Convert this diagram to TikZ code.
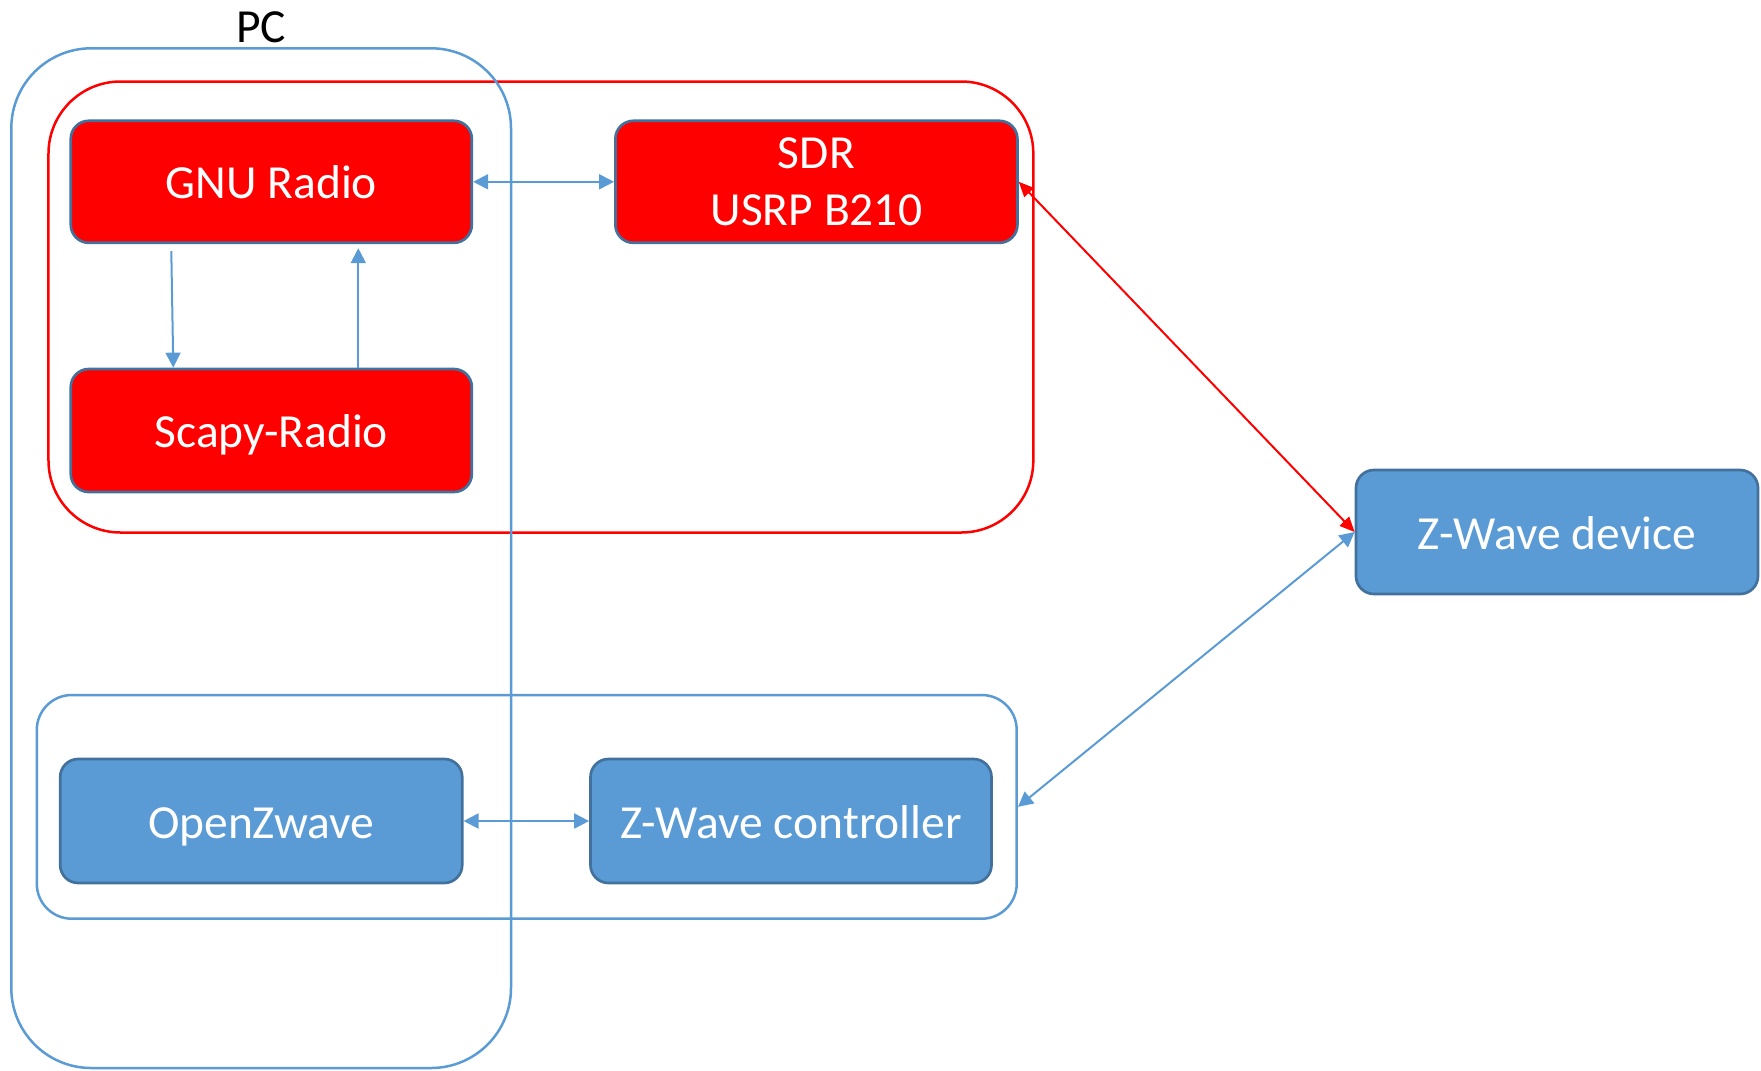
\documentclass[tikz,border=0pt]{standalone}
\usepackage{fontspec}
\setmainfont{Carlito}
\usetikzlibrary{arrows.meta}
\definecolor{accblue}{HTML}{5B9BD5}
\definecolor{bordblue}{HTML}{41719C}
\definecolor{pured}{HTML}{FF0000}
\tikzset{
  box/.style={rectangle, rounded corners=18bp, draw=bordblue, line width=2.7bp,
    minimum width=401bp, minimum height=122bp, inner sep=0pt, text=white,
    font=\fontsize{47.5bp}{56.7bp}\selectfont, align=center},
  redbox/.style={box, fill=pured},
  bluebox/.style={box, fill=accblue, minimum height=124bp},
  oneline/.style={text height=34bp, text depth=0bp},
  container/.style={rectangle, draw, line width=2.5bp, inner sep=0pt},
  barrow/.style={draw=accblue, line width=2bp, {Triangle[length=15bp,width=15bp]}-{Triangle[length=15bp,width=15bp]}},
  barrowone/.style={draw=accblue, line width=2bp, -{Triangle[length=15bp,width=15bp]}},
  rarrow/.style={draw=pured, line width=2bp, {Triangle[length=15bp,width=13bp]}-{Triangle[length=15bp,width=13bp]}},
}
\begin{document}
\begin{tikzpicture}[x=1bp, y=-1bp]
\useasboundingbox (0,0) rectangle (1761,1070);
% containers
\node[container, draw=pured, rounded corners=72bp, minimum width=984.8bp, minimum height=451bp] (sdrzone) at (540.9,307) {};
\node[container, draw=accblue, rounded corners=35bp, minimum width=979.9bp, minimum height=223.7bp] (zbox) at (526.75,806.85) {};
\node[container, draw=accblue, rounded corners=80bp, minimum width=499.7bp, minimum height=1019.7bp] (pc) at (261.15,558.15) {};
\node[anchor=base, font=\fontsize{47.5bp}{56bp}\selectfont, inner sep=0pt] (pclabel) at (261,42) {PC};
% boxes
\node[redbox, oneline] (gnu) at (271.3,181.8) {GNU Radio};
\node[redbox, minimum width=402bp] (sdr) at (816.4,181.8) {SDR\\USRP B210};
\node[redbox, oneline, minimum height=123bp] (scapy) at (271.3,430.5) {Scapy-Radio};
\node[bluebox, oneline, minimum width=402bp] (dev) at (1557,532) {Z-Wave device};
\node[bluebox, oneline, minimum width=402bp] (ozw) at (261.2,821) {OpenZwave};
\node[bluebox, oneline] (ctrl) at (791,821) {Z-Wave controller};
% connectors
\draw[barrow] (gnu.east) -- (sdr.west);
\draw[barrowone] ([xshift=-100bp,yshift=-7bp]gnu.south) -- ([xshift=-98bp]scapy.north);
\draw[barrowone] ([xshift=87bp]scapy.north) -- ([xshift=87bp,yshift=-4bp]gnu.south);
\draw[rarrow] (sdr.east) -- (dev.west);
\draw[barrow] (dev.west) -- (zbox.east);
\draw[barrow] (ozw.east) -- (ctrl.west);
\end{tikzpicture}
\end{document}
